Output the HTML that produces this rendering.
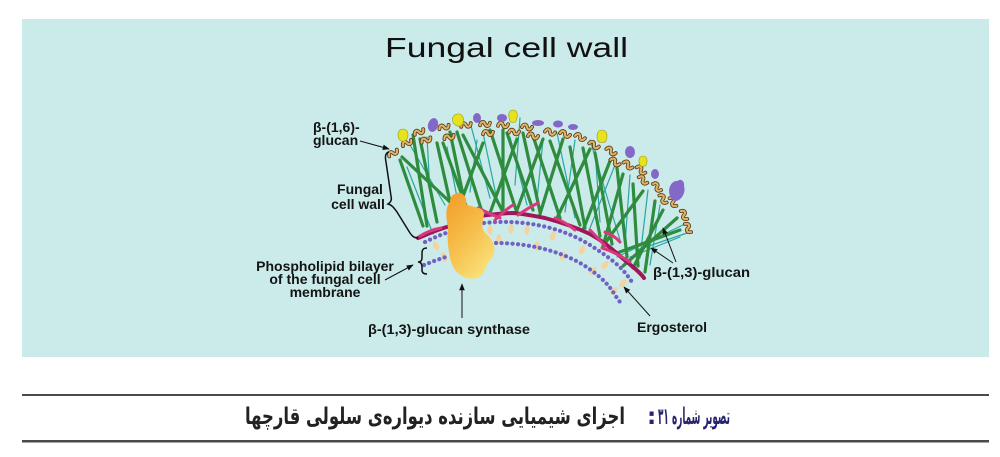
<!DOCTYPE html>
<html><head><meta charset="utf-8">
<style>
html,body{margin:0;padding:0;background:#fff;width:1000px;height:457px;overflow:hidden}
svg{display:block}
.g{stroke:#2f8c3f;stroke-width:3.2;stroke-linecap:round;fill:none}
.t{stroke:#2aa6a2;stroke-width:1.2;stroke-linecap:round;fill:none}
.wo{fill:none;stroke:#5b3c12;stroke-width:3.8;stroke-linecap:round}
.wi{fill:none;stroke:#e0b26a;stroke-width:2.1;stroke-linecap:round}
.y{fill:#e6e21e;stroke:#9c9a12;stroke-width:.6}
.p{fill:#8468c8}
.lb{font-family:"Liberation Sans",Arial,sans-serif;font-weight:bold;font-size:14px;fill:#141414}
.ar{stroke:#111;stroke-width:1;fill:none}
.cap{font-family:"DejaVu Sans",sans-serif;font-size:23px;font-weight:bold}
</style></head><body>
<svg width="1000" height="457" viewBox="0 0 1000 457" xmlns="http://www.w3.org/2000/svg">
<defs>
<marker id="ah" viewBox="0 0 10 10" refX="9" refY="5" markerWidth="7" markerHeight="7" orient="auto"><path d="M0,1 L10,5 L0,9 z" fill="#111"/></marker>
<linearGradient id="sy" x1="0" y1="0" x2="0.6" y2="1">
<stop offset="0" stop-color="#f39a28"/><stop offset="0.55" stop-color="#f6bd4a"/><stop offset="1" stop-color="#f9de74"/>
</linearGradient>
</defs>

<rect x="22" y="19" width="967" height="338" fill="#caebea"/>

<text x="385" y="57" font-family="Liberation Sans, Arial, sans-serif" font-size="28" fill="#111" textLength="243" lengthAdjust="spacingAndGlyphs">Fungal cell wall</text>

<!-- teal thin glucan lines -->
<g class="t">
<line x1="407" y1="167" x2="433" y2="234"/><line x1="427" y1="137" x2="430" y2="192"/>
<line x1="447" y1="147" x2="457" y2="197"/><line x1="477" y1="140" x2="470" y2="192"/>
<line x1="483" y1="133" x2="497" y2="200"/><line x1="510" y1="137" x2="527" y2="205"/>
<line x1="543" y1="140" x2="537" y2="200"/><line x1="557" y1="133" x2="575" y2="218"/>
<line x1="575" y1="140" x2="565" y2="212"/><line x1="595" y1="150" x2="600" y2="222"/>
<line x1="615" y1="165" x2="590" y2="228"/><line x1="630" y1="175" x2="625" y2="245"/>
<line x1="648" y1="190" x2="640" y2="258"/><line x1="617" y1="257" x2="687" y2="223"/>
<line x1="637" y1="250" x2="690" y2="232"/><line x1="630" y1="257" x2="680" y2="237"/>
<line x1="660" y1="205" x2="650" y2="265"/><line x1="520" y1="118" x2="515" y2="185"/>
<line x1="470" y1="122" x2="490" y2="198"/><line x1="410" y1="145" x2="445" y2="205"/>
<line x1="590" y1="140" x2="620" y2="240"/>
</g>

<!-- green chitin lines -->
<g class="g">
<line x1="400" y1="160" x2="423" y2="226"/><line x1="402" y1="157" x2="450" y2="202"/>
<line x1="413" y1="135" x2="427" y2="226"/><line x1="420" y1="139" x2="437" y2="222"/>
<line x1="437" y1="143" x2="450" y2="202"/><line x1="443" y1="143" x2="470" y2="217"/>
<line x1="450" y1="132" x2="463" y2="195"/><line x1="457" y1="132" x2="483" y2="215"/>
<line x1="463" y1="135" x2="503" y2="212"/><line x1="483" y1="143" x2="457" y2="212"/>
<line x1="490" y1="130" x2="517" y2="213"/><line x1="503" y1="130" x2="503" y2="213"/>
<line x1="507" y1="133" x2="533" y2="210"/><line x1="517" y1="139" x2="490" y2="213"/>
<line x1="523" y1="133" x2="540" y2="212"/><line x1="533" y1="136" x2="560" y2="218"/>
<line x1="543" y1="139" x2="517" y2="210"/><line x1="550" y1="141" x2="580" y2="225"/>
<line x1="563" y1="139" x2="540" y2="214"/><line x1="570" y1="147" x2="585" y2="228"/>
<line x1="583" y1="148" x2="600" y2="236"/><line x1="590" y1="149" x2="557" y2="218"/>
<line x1="595" y1="153" x2="612" y2="244"/><line x1="610" y1="161" x2="583" y2="230"/>
<line x1="617" y1="168" x2="627" y2="257"/><line x1="623" y1="174" x2="603" y2="246"/>
<line x1="633" y1="184" x2="638" y2="266"/><line x1="643" y1="191" x2="603" y2="246"/>
<line x1="663" y1="210" x2="633" y2="268"/><line x1="677" y1="218" x2="623" y2="266"/>
<line x1="680" y1="230" x2="617" y2="253"/><line x1="655" y1="201" x2="645" y2="272"/>
</g>

<!-- beta-1,6 glucan wiggles -->
<g>
<g transform="translate(393,153) rotate(-31)"><path class="wo" d="M-5,1 C-4,-3 -1,-3 0,0 S4,3 5,-1"/><path class="wi" d="M-5,1 C-4,-3 -1,-3 0,0 S4,3 5,-1"/></g>
<g transform="translate(407,143) rotate(-26)"><path class="wo" d="M-5,1 C-4,-3 -1,-3 0,0 S4,3 5,-1"/><path class="wi" d="M-5,1 C-4,-3 -1,-3 0,0 S4,3 5,-1"/></g>
<g transform="translate(419,132) rotate(-23)"><path class="wo" d="M-5,1 C-4,-3 -1,-3 0,0 S4,3 5,-1"/><path class="wi" d="M-5,1 C-4,-3 -1,-3 0,0 S4,3 5,-1"/></g>
<g transform="translate(426,140) rotate(-20)"><path class="wo" d="M-5,1 C-4,-3 -1,-3 0,0 S4,3 5,-1"/><path class="wi" d="M-5,1 C-4,-3 -1,-3 0,0 S4,3 5,-1"/></g>
<g transform="translate(444,127) rotate(-15)"><path class="wo" d="M-5,1 C-4,-3 -1,-3 0,0 S4,3 5,-1"/><path class="wi" d="M-5,1 C-4,-3 -1,-3 0,0 S4,3 5,-1"/></g>
<g transform="translate(449,137) rotate(-14)"><path class="wo" d="M-5,1 C-4,-3 -1,-3 0,0 S4,3 5,-1"/><path class="wi" d="M-5,1 C-4,-3 -1,-3 0,0 S4,3 5,-1"/></g>
<g transform="translate(466,125) rotate(-10)"><path class="wo" d="M-5,1 C-4,-3 -1,-3 0,0 S4,3 5,-1"/><path class="wi" d="M-5,1 C-4,-3 -1,-3 0,0 S4,3 5,-1"/></g>
<g transform="translate(485,124) rotate(-3)"><path class="wo" d="M-5,1 C-4,-3 -1,-3 0,0 S4,3 5,-1"/><path class="wi" d="M-5,1 C-4,-3 -1,-3 0,0 S4,3 5,-1"/></g>
<g transform="translate(488,133) rotate(-2)"><path class="wo" d="M-5,1 C-4,-3 -1,-3 0,0 S4,3 5,-1"/><path class="wi" d="M-5,1 C-4,-3 -1,-3 0,0 S4,3 5,-1"/></g>
<g transform="translate(503,125) rotate(2)"><path class="wo" d="M-5,1 C-4,-3 -1,-3 0,0 S4,3 5,-1"/><path class="wi" d="M-5,1 C-4,-3 -1,-3 0,0 S4,3 5,-1"/></g>
<g transform="translate(514,132) rotate(5)"><path class="wo" d="M-5,1 C-4,-3 -1,-3 0,0 S4,3 5,-1"/><path class="wi" d="M-5,1 C-4,-3 -1,-3 0,0 S4,3 5,-1"/></g>
<g transform="translate(527,127) rotate(10)"><path class="wo" d="M-5,1 C-4,-3 -1,-3 0,0 S4,3 5,-1"/><path class="wi" d="M-5,1 C-4,-3 -1,-3 0,0 S4,3 5,-1"/></g>
<g transform="translate(533,136) rotate(11)"><path class="wo" d="M-5,1 C-4,-3 -1,-3 0,0 S4,3 5,-1"/><path class="wi" d="M-5,1 C-4,-3 -1,-3 0,0 S4,3 5,-1"/></g>
<g transform="translate(550,132) rotate(16)"><path class="wo" d="M-5,1 C-4,-3 -1,-3 0,0 S4,3 5,-1"/><path class="wi" d="M-5,1 C-4,-3 -1,-3 0,0 S4,3 5,-1"/></g>
<g transform="translate(565,134) rotate(21)"><path class="wo" d="M-5,1 C-4,-3 -1,-3 0,0 S4,3 5,-1"/><path class="wi" d="M-5,1 C-4,-3 -1,-3 0,0 S4,3 5,-1"/></g>
<g transform="translate(580,137) rotate(25)"><path class="wo" d="M-5,1 C-4,-3 -1,-3 0,0 S4,3 5,-1"/><path class="wi" d="M-5,1 C-4,-3 -1,-3 0,0 S4,3 5,-1"/></g>
<g transform="translate(594,145) rotate(30)"><path class="wo" d="M-5,1 C-4,-3 -1,-3 0,0 S4,3 5,-1"/><path class="wi" d="M-5,1 C-4,-3 -1,-3 0,0 S4,3 5,-1"/></g>
<g transform="translate(611,151) rotate(35)"><path class="wo" d="M-5,1 C-4,-3 -1,-3 0,0 S4,3 5,-1"/><path class="wi" d="M-5,1 C-4,-3 -1,-3 0,0 S4,3 5,-1"/></g>
<g transform="translate(615,162) rotate(36)"><path class="wo" d="M-5,1 C-4,-3 -1,-3 0,0 S4,3 5,-1"/><path class="wi" d="M-5,1 C-4,-3 -1,-3 0,0 S4,3 5,-1"/></g>
<g transform="translate(628,165) rotate(40)"><path class="wo" d="M-5,1 C-4,-3 -1,-3 0,0 S4,3 5,-1"/><path class="wi" d="M-5,1 C-4,-3 -1,-3 0,0 S4,3 5,-1"/></g>
<g transform="translate(641,170) rotate(43)"><path class="wo" d="M-5,1 C-4,-3 -1,-3 0,0 S4,3 5,-1"/><path class="wi" d="M-5,1 C-4,-3 -1,-3 0,0 S4,3 5,-1"/></g>
<g transform="translate(643,180) rotate(44)"><path class="wo" d="M-5,1 C-4,-3 -1,-3 0,0 S4,3 5,-1"/><path class="wi" d="M-5,1 C-4,-3 -1,-3 0,0 S4,3 5,-1"/></g>
<g transform="translate(657,187) rotate(49)"><path class="wo" d="M-5,1 C-4,-3 -1,-3 0,0 S4,3 5,-1"/><path class="wi" d="M-5,1 C-4,-3 -1,-3 0,0 S4,3 5,-1"/></g>
<g transform="translate(663,199) rotate(55)"><path class="wo" d="M-5,1 C-4,-3 -1,-3 0,0 S4,3 5,-1"/><path class="wi" d="M-5,1 C-4,-3 -1,-3 0,0 S4,3 5,-1"/></g>
<g transform="translate(673,202) rotate(60)"><path class="wo" d="M-5,1 C-4,-3 -1,-3 0,0 S4,3 5,-1"/><path class="wi" d="M-5,1 C-4,-3 -1,-3 0,0 S4,3 5,-1"/></g>
<g transform="translate(684,215) rotate(62)"><path class="wo" d="M-5,1 C-4,-3 -1,-3 0,0 S4,3 5,-1"/><path class="wi" d="M-5,1 C-4,-3 -1,-3 0,0 S4,3 5,-1"/></g>
<g transform="translate(688,228) rotate(64)"><path class="wo" d="M-5,1 C-4,-3 -1,-3 0,0 S4,3 5,-1"/><path class="wi" d="M-5,1 C-4,-3 -1,-3 0,0 S4,3 5,-1"/></g>
</g>

<!-- yellow blobs -->
<path class="y" transform="translate(403,135)" d="M0,-6 C5,-6 6,0 4,4 C2,7 -2,7 -4,4 C-6,0 -5,-6 0,-6Z"/>
<path class="y" transform="translate(458,120) rotate(-20)" d="M0,-6 C6,-6 7,0 4,4 C2,7 -2,7 -4,4 C-7,0 -5,-6 0,-6Z"/>
<path class="y" transform="translate(513,116)" d="M0,-6 C5,-6 5,0 3,5 C2,7 -2,7 -3,5 C-5,0 -5,-6 0,-6Z"/>
<path class="y" transform="translate(602,136)" d="M0,-6 C5,-6 6,0 4,5 C2,7 -2,7 -4,5 C-6,0 -5,-6 0,-6Z"/>
<path class="y" transform="translate(643,161)" d="M0,-5 C4,-5 5,0 3,4 C2,6 -2,6 -3,4 C-5,0 -4,-5 0,-5Z"/>

<!-- purple blobs -->
<ellipse class="p" cx="433" cy="125" rx="5" ry="7" transform="rotate(15 433 125)"/>
<ellipse class="p" cx="477" cy="118" rx="4" ry="5"/>
<ellipse class="p" cx="502" cy="118" rx="5" ry="4"/>
<ellipse class="p" cx="538" cy="123" rx="6" ry="3"/>
<ellipse class="p" cx="558" cy="124" rx="5" ry="3.5"/>
<ellipse class="p" cx="573" cy="127" rx="5" ry="3"/>
<ellipse class="p" cx="630" cy="152" rx="5" ry="6"/>
<ellipse class="p" cx="655" cy="174" rx="4" ry="5"/>
<path class="p" d="M670,196 C667,188 672,180 678,181 C680,178 685,181 684,186 C686,192 682,200 676,201 C673,201 671,199 670,196Z"/>

<!-- ergosterol capsules -->
<g fill="#f3d39e">
<ellipse cx="436" cy="246" rx="2.6" ry="4.8" transform="rotate(-25 436 246)"/>
<ellipse cx="444" cy="257" rx="2.6" ry="4.8" transform="rotate(-25 444 257)"/>
<ellipse cx="490" cy="230" rx="2.6" ry="4.8" transform="rotate(-5 490 230)"/>
<ellipse cx="499" cy="239" rx="2.6" ry="4.8" transform="rotate(-5 499 239)"/>
<ellipse cx="511" cy="229" rx="2.6" ry="4.8"/>
<ellipse cx="527" cy="230" rx="2.6" ry="4.8" transform="rotate(5 527 230)"/>
<ellipse cx="537" cy="246" rx="2.6" ry="4.8" transform="rotate(5 537 246)"/>
<ellipse cx="553" cy="236" rx="2.6" ry="4.8" transform="rotate(15 553 236)"/>
<ellipse cx="563" cy="256" rx="2.6" ry="4.8" transform="rotate(20 563 256)"/>
<ellipse cx="582" cy="250" rx="2.6" ry="4.8" transform="rotate(30 582 250)"/>
<ellipse cx="593" cy="271" rx="2.6" ry="4.8" transform="rotate(35 593 271)"/>
<ellipse cx="605" cy="265" rx="2.6" ry="4.8" transform="rotate(40 605 265)"/>
<ellipse cx="623" cy="283" rx="2.6" ry="4.8" transform="rotate(45 623 283)"/>
<ellipse cx="614" cy="291" rx="2.6" ry="4.8" transform="rotate(45 614 291)"/>
</g>
<!-- membrane rows -->
<g fill="none" stroke="#7062c4" stroke-width="4.2" stroke-linecap="round" stroke-dasharray="0.1 5.4">
<path d="M425,242 Q437,236 449,232"/>
<path d="M484,223 C520,219 560,226 590,245 S625,272 632,282"/>
<path d="M424,265 Q436,260 449,256"/>
<path d="M496,243 C530,243 565,252 588,268 S612,292 620,302"/>
</g>

<!-- magenta base layer -->
<path d="M418,238 C428,234 436,230 450,226 L480,216 C495,214 505,213 513,213 C525,214 535,216 545,218 C560,222 575,227 590,234 C605,242 615,252 627,262 C634,268 640,272 644,278" fill="none" stroke="#a0165a" stroke-width="4" stroke-linecap="round"/>
<g fill="none" stroke="#d8387e" stroke-width="3" stroke-linecap="round">
<path d="M420,236 Q430,230 441,228"/>
<path d="M478,208 Q490,214 500,218"/>
<path d="M495,220 Q505,210 513,205"/>
<path d="M518,215 Q528,208 538,203"/>
<path d="M555,218 Q565,222 575,230"/>
<path d="M590,230 Q600,240 605,246"/>
<path d="M602,248 Q615,252 630,262"/>
<path d="M605,232 Q615,236 620,242"/>
</g>

<!-- synthase -->
<path d="M455,194 C460,190 468,196 466,204 C472,208 484,206 484,214 C483,222 480,228 486,234 C494,240 497,250 492,258 C488,262 486,266 484,272 C480,280 468,280 462,276 C455,272 452,266 450,258 C448,248 447,238 448,228 C446,218 445,208 450,202 C450,198 452,195 455,194 Z" fill="url(#sy)"/>

<!-- braces -->
<path d="M389,152 C385,153 385,157 386,162 L391,196 C392,200 391,202 388,204 C392,205 394,208 397,212 L410,233 C412,236 414,238 418,238" fill="none" stroke="#111" stroke-width="1.5"/>
<path d="M427,248 C423,248 422,250 422,253 L422,258 C422,260 421,262 418,262 C421,262 422,264 422,267 L422,270 C422,273 424,274 427,274" fill="none" stroke="#111" stroke-width="1.5"/>

<!-- arrows -->
<line class="ar" x1="360" y1="141" x2="389" y2="149" marker-end="url(#ah)"/>
<line class="ar" x1="385" y1="280" x2="413" y2="265" marker-end="url(#ah)"/>
<line class="ar" x1="462" y1="318" x2="462" y2="284" marker-end="url(#ah)"/>
<line class="ar" x1="650" y1="316" x2="624" y2="287" marker-end="url(#ah)"/>
<line class="ar" x1="676" y1="262" x2="663" y2="228" marker-end="url(#ah)"/>
<line class="ar" x1="673" y1="263" x2="651" y2="248" marker-end="url(#ah)"/>

<!-- labels -->
<text class="lb" x="313" y="132">β-(1,6)-</text>
<text class="lb" x="313" y="145">glucan</text>
<text class="lb" x="360" y="194" text-anchor="middle">Fungal</text>
<text class="lb" x="358" y="209" text-anchor="middle">cell wall</text>
<text class="lb" x="325" y="271" text-anchor="middle">Phospholipid bilayer</text>
<text class="lb" x="325" y="284" text-anchor="middle">of the fungal cell</text>
<text class="lb" x="325" y="297" text-anchor="middle">membrane</text>
<text class="lb" x="653" y="277" textLength="97" lengthAdjust="spacingAndGlyphs">β-(1,3)-glucan</text>
<text class="lb" x="637" y="332">Ergosterol</text>
<text class="lb" x="368" y="334" textLength="162" lengthAdjust="spacingAndGlyphs">β-(1,3)-glucan synthase</text>

<!-- caption -->
<rect x="22" y="394" width="967" height="2" fill="#4a4a4a"/>
<rect x="22" y="440" width="967" height="2.5" fill="#4a4a4a"/>
<text class="cap" x="658" y="424" fill="#27246e" textLength="72" lengthAdjust="spacingAndGlyphs">تصویر شماره ۳۱</text>
<text class="cap" x="647" y="424" fill="#27246e">:</text>
<text class="cap" x="245" y="424" fill="#222" textLength="380" lengthAdjust="spacingAndGlyphs">اجزای شیمیایی سازنده دیواره‌ی سلولی قارچها</text>
</svg>
</body></html>
